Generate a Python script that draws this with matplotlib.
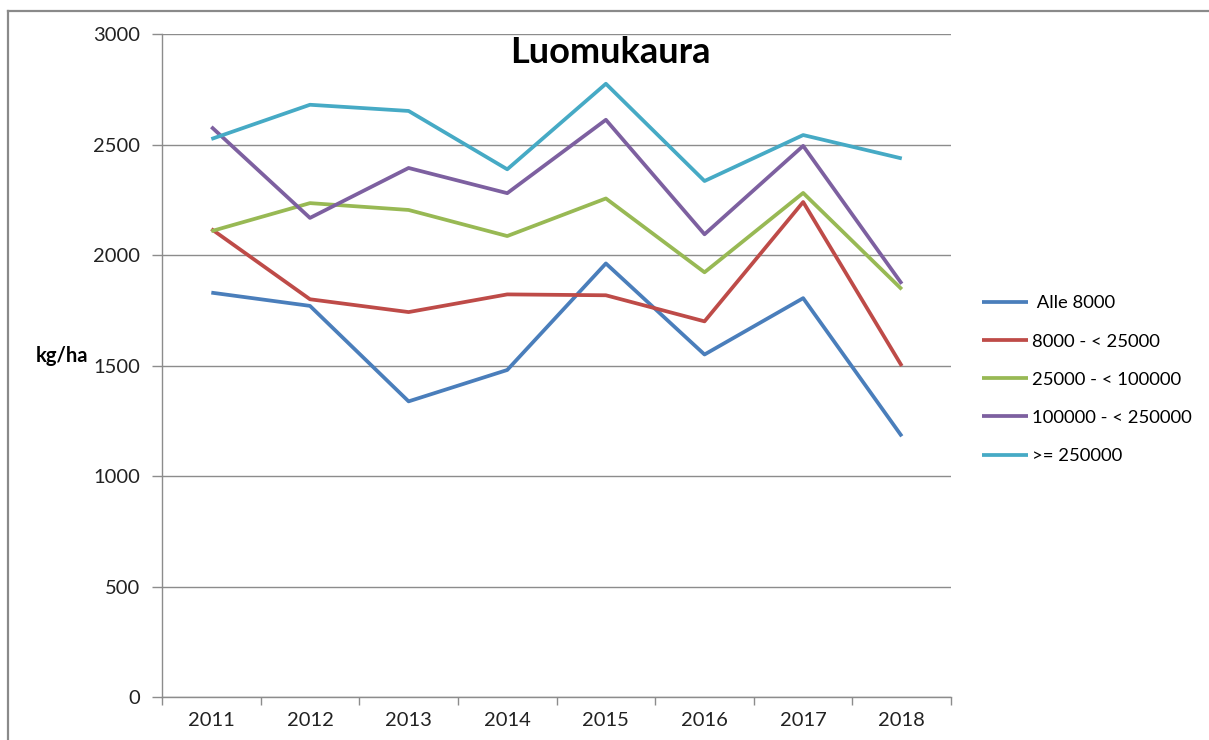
import numpy as np
import matplotlib.pyplot as plt
from matplotlib.lines import Line2D

plt.rcParams['font.family'] = ['Lato', 'DejaVu Sans']

years = ['2011', '2012', '2013', '2014', '2015', '2016', '2017', '2018']
alle_8000 = [1830, 1770, 1338, 1480, 1962, 1550, 1805, 1180]
r_8000_25000 = [2118, 1800, 1742, 1822, 1818, 1700, 2240, 1498]
r_25000_100000 = [2108, 2235, 2204, 2086, 2256, 1922, 2281, 1845]
r_100000_250000 = [2580, 2168, 2394, 2280, 2612, 2094, 2494, 1870]
yli_250000 = [2525, 2680, 2652, 2388, 2775, 2335, 2543, 2437]

series = [
    (' Alle 8000', alle_8000, '#4A7EBB'),
    ('8000 - < 25000', r_8000_25000, '#BE4B48'),
    ('25000 - < 100000', r_25000_100000, '#98B954'),
    ('100000 - < 250000', r_100000_250000, '#7D60A0'),
    ('>= 250000', yli_250000, '#46AAC5'),
]

fig = plt.figure(figsize=(12.09, 7.40), dpi=100)
ax = fig.add_axes([0.134, 0.058, 0.6527, 0.896])

x = np.arange(len(years))
for label, vals, col in series:
    ax.plot(x, vals, color=col, lw=2.7, label=label, solid_capstyle='butt')

ax.set_xlim(-0.5, len(years) - 0.5)
ax.set_ylim(0, 3000)
ax.set_yticks(np.arange(0, 3001, 500))
ax.yaxis.grid(True, color='#8c8c8c', lw=1)
ax.set_axisbelow(True)

# kategoriat: merkit rajoilla, tekstit keskellä
ax.set_xticks(np.arange(-0.5, len(years), 1))
ax.set_xticklabels([])
ax.set_xticks(x, minor=True)
ax.set_xticklabels(years, minor=True)
ax.tick_params(axis='x', which='minor', length=0, pad=11, labelsize=14.5, labelcolor='#222222')
ax.tick_params(axis='x', which='major', length=6, color='#8c8c8c', width=1)
ax.tick_params(axis='y', length=7, color='#8c8c8c', width=1, pad=9, labelsize=14.5, labelcolor='#222222')

for s in ['top', 'right']:
    ax.spines[s].set_visible(False)
for s in ['left', 'bottom']:
    ax.spines[s].set_color('#8c8c8c')
    ax.spines[s].set_linewidth(1)

ax.set_ylabel('kg/ha', rotation=0, fontweight='bold', fontsize=14.5, labelpad=0)
ax.yaxis.set_label_coords(-0.127, 0.5)

fig.text(0.505, 0.929, 'Luomukaura', ha='center', va='center', fontsize=26, fontweight='bold')

ax.legend(loc='upper left', bbox_to_anchor=(1.03, 0.617), frameon=False, fontsize=13.3,
          handlelength=2.5, handletextpad=0.2, labelspacing=1.2, borderaxespad=0)

# reunakehys
fig.add_artist(Line2D([8 / 1209, 8 / 1209], [0, 1 - 10.5 / 740], color='#8a8a8a', lw=1.6,
                      transform=fig.transFigure))
fig.add_artist(Line2D([8 / 1209, 1], [1 - 10.5 / 740, 1 - 10.5 / 740], color='#8a8a8a', lw=1.6,
                      transform=fig.transFigure))

fig.savefig('out.png', dpi=100)
